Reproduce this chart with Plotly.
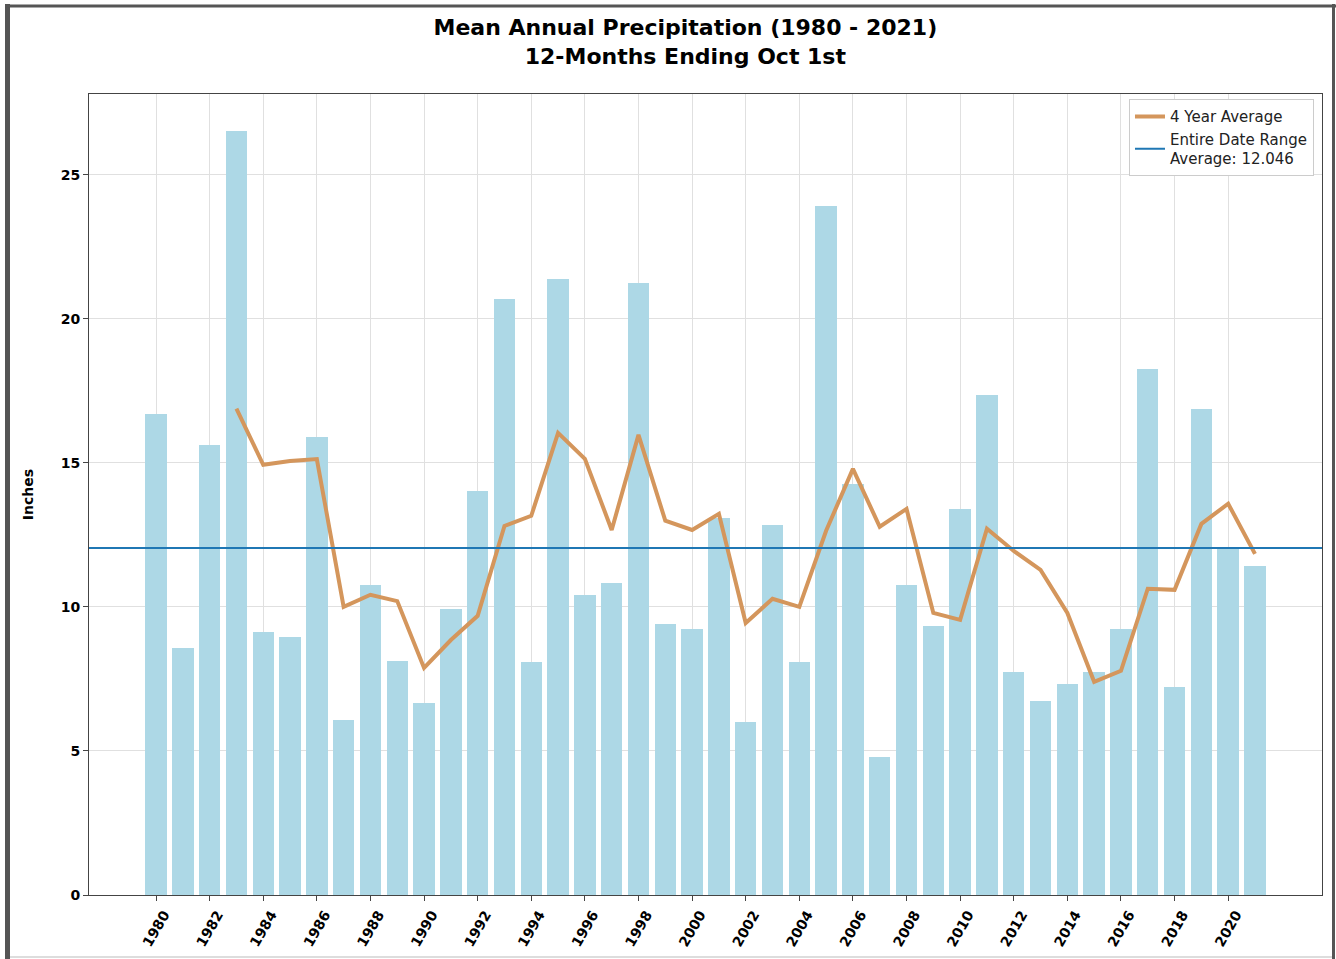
import plotly.graph_objects as go

years = list(range(1980, 2022))
precip = [16.70, 8.58, 15.63, 26.53, 9.13, 8.96, 15.90, 6.08, 10.76, 8.13,
          6.67, 9.93, 14.03, 20.69, 8.09, 21.39, 10.42, 10.83, 21.25, 9.41,
          9.24, 13.09, 6.01, 12.85, 8.09, 23.92, 14.27, 4.79, 10.76, 9.34,
          13.40, 17.36, 7.74, 6.74, 7.33, 7.74, 9.24, 18.26, 7.22, 16.88,
          12.08, 11.42]
avg_years = list(range(1983, 2022))
avg4 = [16.88, 14.93, 15.06, 15.13, 10.00, 10.42, 10.20, 7.88, 8.85, 9.69,
        12.81, 13.16, 16.04, 15.14, 12.67, 15.97, 12.99, 12.67, 13.23, 9.44,
        10.28, 10.00, 12.64, 14.79, 12.78, 13.40, 9.79, 9.55, 12.71, 11.94,
        11.28, 9.79, 7.40, 7.78, 10.63, 10.59, 12.88, 13.58, 11.84]
overall_avg = 12.046
x_range = [1977.5, 2023.5]
y_range = [0, 27.8]
tick_years = list(range(1980, 2021, 2))

W, H = 1336, 959
ML, MR, MT, MB = 89, 14, 94, 64
PW, PH = W - ML - MR, H - MT - MB

fig = go.Figure()
fig.add_trace(go.Bar(x=years, y=precip, width=0.8, marker_color="#ADD8E6",
                     marker_line_width=0, showlegend=False))
fig.add_trace(go.Scatter(x=avg_years, y=avg4, mode="lines",
                         line=dict(color="rgb(212,150,92)", width=4),
                         name="4 Year Average"))
fig.add_trace(go.Scatter(x=x_range, y=[overall_avg, overall_avg], mode="lines",
                         line=dict(color="#1f77b4", width=2),
                         name="Entire Date Range<br>Average: %.3f" % overall_avg))

bold = dict(family="DejaVu Sans", size=14, color="black", weight="bold")
axis_common = dict(showline=True, linecolor="#444", linewidth=1, mirror=True,
                   ticks="outside", ticklen=5, tickcolor="#444",
                   showgrid=True, gridcolor="#e0e0e0", gridwidth=1,
                   zeroline=False, tickfont=bold, automargin=False)

fig.update_layout(
    width=W, height=H,
    paper_bgcolor="white", plot_bgcolor="white",
    margin=dict(l=ML, r=MR, t=MT, b=MB),
    title=dict(text="Mean Annual Precipitation (1980 - 2021)<br>12-Months Ending Oct 1st",
               x=0.513, xanchor="center", y=0.963, yanchor="top", yref="container",
               font=dict(family="DejaVu Sans", size=22, color="black", weight="bold")),
    xaxis=dict(range=x_range, tickmode="array", tickvals=tick_years,
               ticktext=[str(y) for y in tick_years], tickangle=-60,
               ticklabelshift=8, **axis_common),
    yaxis=dict(range=y_range, tickmode="array", tickvals=[0, 5, 10, 15, 20, 25],
               title=dict(text="Inches", font=bold, standoff=23), **axis_common),
    legend=dict(x=0.9935, y=0.9935, xanchor="right", yanchor="top",
                bgcolor="white", bordercolor="#ccc", borderwidth=1,
                font=dict(family="DejaVu Sans", size=15, color="#222"),
                tracegroupgap=0),
    bargap=0,
)

def px_x(p):
    return (p - ML) / PW

def px_y(p):
    return (H - MB - p) / PH

# outer screenshot frame
fig.add_shape(type="line", xref="paper", yref="paper",
              x0=px_x(7.5), x1=px_x(7.5), y0=px_y(959), y1=px_y(4),
              line=dict(color="#555", width=5))
fig.add_shape(type="line", xref="paper", yref="paper",
              x0=px_x(5), x1=px_x(1336), y0=px_y(6), y1=px_y(6),
              line=dict(color="#555", width=3))
fig.add_shape(type="line", xref="paper", yref="paper",
              x0=px_x(1333.5), x1=px_x(1333.5), y0=px_y(959), y1=px_y(4),
              line=dict(color="#555", width=3))
fig.add_shape(type="line", xref="paper", yref="paper",
              x0=px_x(10), x1=px_x(1332), y0=px_y(957), y1=px_y(957),
              line=dict(color="#ddd", width=2))

fig.write_html("out.html", config={"displayModeBar": False},
               post_script="document.body.style.margin='0';")
